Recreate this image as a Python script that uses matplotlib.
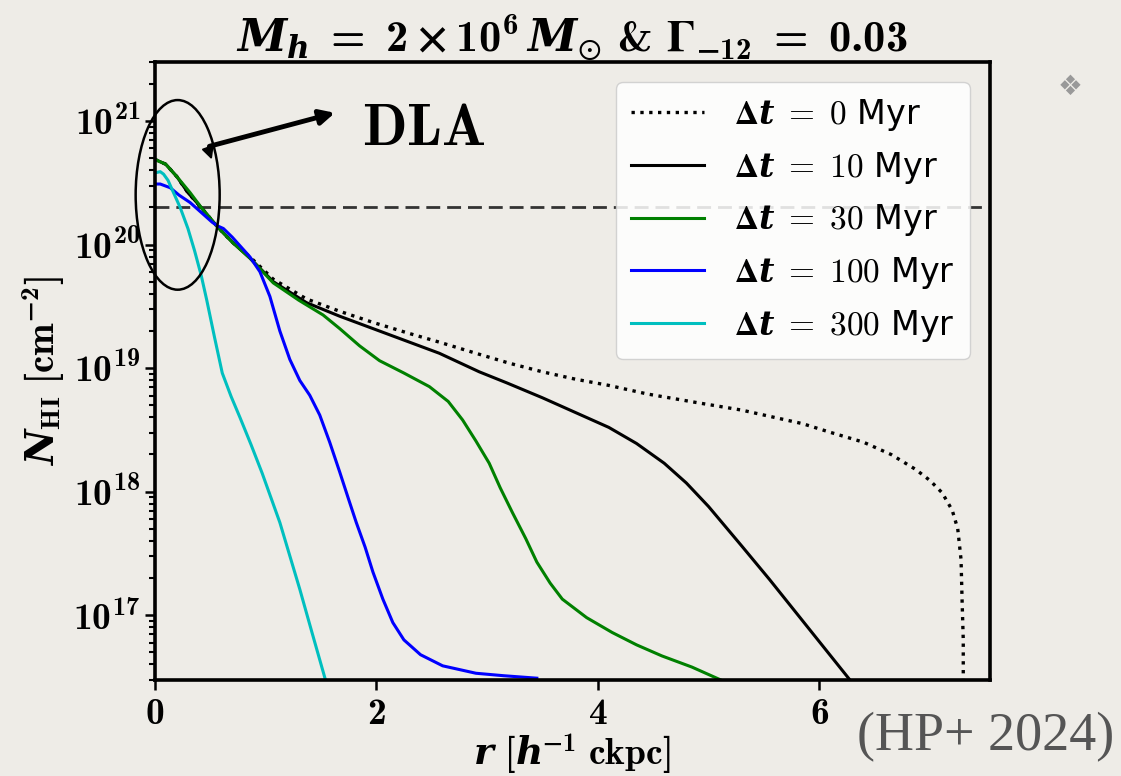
import numpy as np
import matplotlib.pyplot as plt
from matplotlib.patches import Ellipse
from matplotlib.ticker import FuncFormatter, LogLocator, FixedLocator

plt.rcParams['mathtext.fontset'] = 'custom'
plt.rcParams['mathtext.rm'] = 'cmr10'
plt.rcParams['mathtext.bf'] = 'cmb10'
plt.rcParams['mathtext.it'] = 'DejaVu Serif:italic'
plt.rcParams['mathtext.bfit'] = 'DejaVu Serif:italic:bold'
plt.rcParams['mathtext.fallback'] = 'stix'
plt.rcParams['font.family'] = ['DejaVu Sans']
plt.rcParams['axes.unicode_minus'] = True

# HI column density profiles
# r in h^-1 ckpc, values are log10(N_HI / cm^-2)
r_0 = [0, 0.1, 0.2, 0.3, 0.42, 0.57, 0.7, 0.86, 1.07, 1.37, 1.67, 1.97, 2.3, 2.57, 2.9,
       3.2, 3.5, 3.8, 4.1, 4.45, 4.9, 5.3, 5.6, 5.85, 6.1, 6.4, 6.65, 6.87, 7.0, 7.11,
       7.2, 7.25, 7.28, 7.29, 7.3, 7.3]
logN_0 = [20.69, 20.65, 20.55, 20.42, 20.30, 20.14, 20.02, 19.90, 19.72, 19.56, 19.46, 19.37,
          19.28, 19.21, 19.12, 19.04, 18.97, 18.91, 18.86, 18.79, 18.72, 18.66, 18.60, 18.55,
          18.48, 18.40, 18.30, 18.18, 18.09, 17.99, 17.85, 17.70, 17.45, 17.10, 16.80, 16.40]

r_10 = [0, 0.1, 0.2, 0.3, 0.42, 0.57, 0.7, 0.86, 1.07, 1.37, 1.67, 1.97, 2.3, 2.57, 2.93,
        3.18, 3.5, 3.8, 4.1, 4.35, 4.6, 4.8, 5.0, 5.15, 5.3, 5.55, 5.8, 6.05, 6.3]
logN_10 = [20.69, 20.65, 20.55, 20.42, 20.30, 20.14, 20.02, 19.89, 19.70, 19.53, 19.42, 19.32,
           19.21, 19.12, 18.97, 18.88, 18.76, 18.64, 18.52, 18.39, 18.23, 18.07, 17.88, 17.72,
           17.56, 17.29, 17.01, 16.73, 16.45]

r_30 = [0, 0.1, 0.2, 0.32, 0.42, 0.57, 0.7, 0.86, 1.07, 1.3, 1.52, 1.67, 1.85, 2.03, 2.25,
        2.48, 2.65, 2.78, 2.9, 3.02, 3.12, 3.23, 3.35, 3.45, 3.57, 3.68, 3.9, 4.13, 4.35,
        4.58, 4.85, 5.15]
logN_30 = [20.69, 20.65, 20.55, 20.42, 20.30, 20.14, 20.02, 19.89, 19.69, 19.55, 19.43, 19.32,
           19.18, 19.06, 18.96, 18.85, 18.73, 18.58, 18.41, 18.23, 18.03, 17.83, 17.62, 17.43,
           17.26, 17.13, 16.98, 16.86, 16.76, 16.67, 16.58, 16.46]

r_100 = [0, 0.05, 0.14, 0.22, 0.32, 0.42, 0.52, 0.57, 0.62, 0.7, 0.86, 0.95, 1.04, 1.13, 1.22,
         1.31, 1.4, 1.49, 1.58, 1.67, 1.75, 1.82, 1.9, 1.97, 2.06, 2.15, 2.25, 2.4, 2.6, 2.9,
         3.15, 3.45]
logN_100 = [20.49, 20.49, 20.46, 20.40, 20.34, 20.26, 20.18, 20.15, 20.13, 20.06, 19.90, 19.78,
            19.58, 19.30, 19.07, 18.90, 18.78, 18.62, 18.40, 18.16, 17.94, 17.75, 17.55, 17.35,
            17.13, 16.94, 16.80, 16.68, 16.59, 16.53, 16.51, 16.49]

r_300 = [0, 0.05, 0.08, 0.12, 0.17, 0.23, 0.3, 0.36, 0.42, 0.47, 0.54, 0.61, 0.69, 0.77, 0.87,
         0.97, 1.05, 1.13, 1.22, 1.31, 1.42, 1.55]
logN_300 = [20.58, 20.59, 20.57, 20.52, 20.42, 20.30, 20.13, 19.95, 19.75, 19.55, 19.25, 18.96,
            18.77, 18.60, 18.38, 18.15, 17.95, 17.75, 17.48, 17.21, 16.86, 16.45]

times = [0, 10, 30, 100, 300]
labels = [r'$\mathbf{\Delta}\mathbfit{t}\;=\;%d$ Myr' % t for t in times]

N_DLA = 2e20

bg = '#EEECE7'
fig = plt.figure(figsize=(11.21, 7.76), dpi=100, facecolor=bg)
ax = fig.add_axes([0.138, 0.124, 0.745, 0.796], facecolor=bg)

ax.plot(r_0, 10**np.array(logN_0), color='k', ls=':', lw=2.4, label=labels[0])
ax.plot(r_10, 10**np.array(logN_10), color='k', lw=2.2, label=labels[1])
ax.plot(r_30, 10**np.array(logN_30), color='g', lw=2.2, label=labels[2])
ax.plot(r_100, 10**np.array(logN_100), color='b', lw=2.2, label=labels[3])
ax.plot(r_300, 10**np.array(logN_300), color='c', lw=2.2, label=labels[4])
ax.axhline(N_DLA, color='#333333', lw=2, dashes=(5, 2.5), zorder=1)

ax.set_yscale('log')
ax.set_xlim(0, 7.54)
ax.set_ylim(3e16, 3e21)

ax.xaxis.set_major_locator(FixedLocator([0, 2, 4, 6]))
ax.xaxis.set_major_formatter(FuncFormatter(lambda v, p: r'$\mathbf{%d}$' % v))
ax.yaxis.set_major_locator(LogLocator(base=10, numticks=10))
ax.yaxis.set_minor_locator(LogLocator(base=10, subs=np.arange(2, 10), numticks=10))
ax.yaxis.set_major_formatter(FuncFormatter(lambda v, p: r'$\mathbf{10^{%d}}$' % round(np.log10(v))))
ax.yaxis.set_minor_formatter(FuncFormatter(lambda v, p: ''))
ax.tick_params(axis='both', which='major', labelsize=27, length=7, width=1.8, direction='out')
ax.tick_params(axis='x', which='major', pad=5)
ax.tick_params(axis='y', which='minor', length=4, width=1.5, direction='out')
for s in ax.spines.values():
    s.set_linewidth(2.6)

ax.set_xlabel(r'$\mathbfit{r}\ \mathbf{[}\mathbfit{h}^{\mathbf{-1}}\ \mathbf{ckpc]}$', fontsize=27, labelpad=0)
ax.set_ylabel(r'$\mathbfit{N}_{\mathbf{HI}}\ \mathbf{[cm^{-2}]}$', fontsize=28, labelpad=4)
ax.set_title(r'$\mathbfit{M}_{\mathbfit{h}}\;\mathbf{=}\;\mathbf{2\times 10^6}\,\mathbfit{M}_{\odot}$ & '
             r'$\mathbf{\Gamma_{-12}}\;\mathbf{=}\;\mathbf{0.03}$',
             fontsize=32, pad=4, family='cmb10')

leg = ax.legend(loc='upper right', fontsize=24, handlelength=2.2, handletextpad=0.9,
                labelspacing=0.5, borderpad=0.45, borderaxespad=0.6, framealpha=0.85)

# DLA annotation
ax.add_patch(Ellipse((0.0275, 0.785), 0.1006, 0.307, transform=ax.transAxes,
                     fill=False, ec='k', lw=1.8, clip_on=False, zorder=6))
ax.annotate('', xy=(0.219, 0.919), xytext=(0.0623, 0.8625), xycoords='axes fraction',
            arrowprops=dict(arrowstyle='-|>', color='k', lw=3.5, mutation_scale=22))
ax.annotate('', xy=(0.0695, 0.838), xytext=(0.0623, 0.866), xycoords='axes fraction',
            arrowprops=dict(arrowstyle='-|>', color='k', lw=1.5, mutation_scale=18))
ax.text(0.322, 0.892, r'$\mathbf{DLA}$', transform=ax.transAxes, fontsize=42,
        ha='center', va='center')

fig.text(0.994, 0.05, '(HP+ 2024)', family='Liberation Serif', fontsize=39,
         color='#555555', ha='right', va='center')
fig.text(0.955, 0.888, '\u2756', fontsize=20, color='#999999', ha='center', va='center')

fig.savefig('out.png', dpi=100, facecolor=bg)
